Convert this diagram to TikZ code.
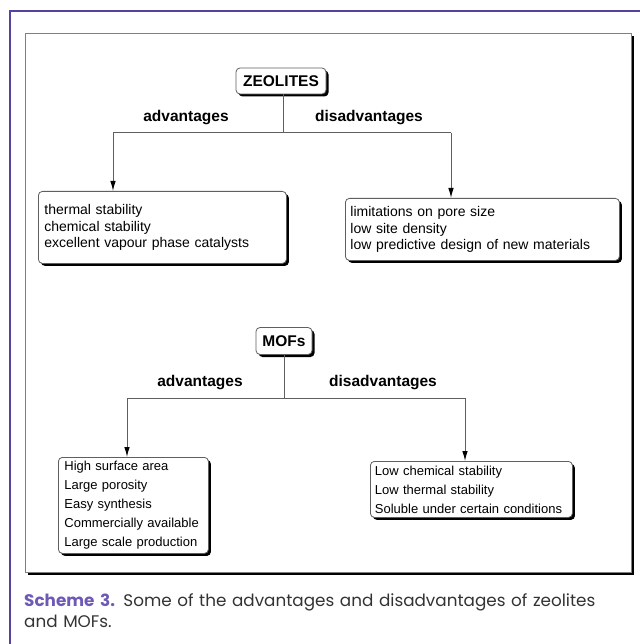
\documentclass[tikz,border=0pt]{standalone}
\usepackage{fontspec}
\setmainfont{Liberation Sans}
\newfontfamily\capfont{Poppins}
\usetikzlibrary{arrows.meta,shadows}
\definecolor{framepurple}{RGB}{88,66,160}
\definecolor{schemepurple}{RGB}{110,90,182}
\definecolor{captext}{RGB}{51,51,51}
\definecolor{linegray}{RGB}{95,95,95}
\hyphenpenalty=10000
\exhyphenpenalty=10000

\begin{document}
\begin{tikzpicture}[x=1pt, y=-1pt,
	box/.style={draw=linegray, line width=0.8pt, fill=white, rounded corners=4pt,
		drop shadow={shadow xshift=2.5pt, shadow yshift=-2.5pt, opacity=1, fill=black}},
	titlebox/.style={box, inner sep=0pt, font=\bfseries\fontsize{15.5}{18}\selectfont},
	listbox/.style={box, anchor=north west, align=left, inner ysep=0pt},
	zlist/.style={listbox, font=\fontsize{14}{16.5}\selectfont},
	mlist/.style={listbox, font=\fontsize{13}{19}\selectfont},
	branch/.style={font=\bfseries\fontsize{15.5}{18}\selectfont},
	link/.style={draw=linegray, line width=1pt},
	arr/.style={link, -{Latex[length=10pt,width=5.5pt,black]}}]
	\useasboundingbox (0,0) rectangle (639,644);

	% page frame
	\draw [framepurple, line width=2pt] (10,650) -- (10,11) -- (650,11);
	\fill [black] (28,36) rectangle (634,575);
	\draw [fill=white, draw=gray, line width=0.8pt] (25,33) rectangle (631,572);

	% zeolites
	\node [titlebox, minimum width=90pt, minimum height=26pt] (zeo) at (281,81) {ZEOLITES};
	\node [branch] (zadvlbl) at (186,118) {advantages};
	\node [branch] (zdislbl) at (369,118) {disadvantages};
	\node [zlist, text width=236pt, inner xsep=6pt, minimum height=72pt] (zadv) at (38,191)
	{thermal stability\\chemical stability\\excellent vapour phase catalysts};
	\node [zlist, text width=264pt, inner xsep=5pt, minimum height=62pt] (zdis) at (345,198)
	{limitations on pore size\\low site density\\low predictive design of new materials};
	\coordinate (zsplit) at (283,133);
	\coordinate (zl) at (113,133);
	\coordinate (zr) at (451,133);
	\draw [link] (zsplit |- zeo.south) -- (zsplit);
	\draw [link] (zl) -- (zr);
	\draw [arr] (zl) -- (zl |- zadv.north);
	\draw [arr] (zr) -- (zr |- zdis.north);

	% MOFs
	\node [titlebox, minimum width=56pt, minimum height=27pt] (mof) at (284,341) {MOFs};
	\node [branch] (madvlbl) at (200,383) {advantages};
	\node [branch] (mdislbl) at (383,383) {disadvantages};
	\node [mlist, text width=138pt, inner xsep=6pt, minimum height=96pt] (madv) at (58,457)
	{High surface area\\Large porosity\\Easy synthesis\\Commercially available\\Large scale production};
	\node [mlist, text width=193pt, inner xsep=4.5pt, minimum height=56pt] (mdis) at (370,461)
	{Low chemical stability\\Low thermal stability\\Soluble under certain conditions};
	\coordinate (msplit) at (284,398);
	\coordinate (ml) at (127,398);
	\coordinate (mr) at (465,398);
	\draw [link] (msplit |- mof.south) -- (msplit);
	\draw [link] (ml) -- (mr);
	\draw [arr] (ml) -- (ml |- madv.north);
	\draw [arr] (mr) -- (mr |- mdis.north);

	% caption
	\node [anchor=north west, text width=614pt, align=left, inner sep=0pt, text=captext,
		font=\capfont\fontsize{16.8}{21}\selectfont] (caption) at (24,593)
	{\textcolor{schemepurple}{\bfseries Scheme 3.} Some of the advantages and disadvantages of zeolites\\and MOFs.};
\end{tikzpicture}
\end{document}
